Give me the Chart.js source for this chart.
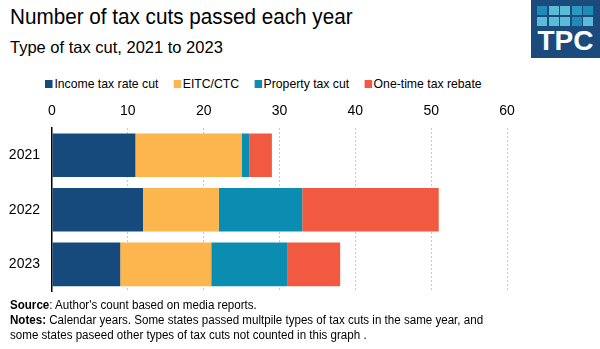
<!DOCTYPE html>
<html>
<head>
<meta charset="utf-8">
<script src="https://cdn.jsdelivr.net/npm/chart.js@4.4.1/dist/chart.umd.min.js"></script>
<style>
  body { margin: 0; background: #fff; font-family: "Liberation Sans", Arial, sans-serif; }
  #wrap { position: relative; width: 600px; height: 349px; overflow: hidden; }
  #title { position: absolute; left: 10px; top: 4px; font-size: 22px; color: #000; white-space: nowrap;
           transform: scaleX(0.94); transform-origin: left top; }
  #subtitle { position: absolute; left: 10px; top: 38px; font-size: 16.5px; color: #000; white-space: nowrap; }
  #legend { position: absolute; left: 45px; top: 76px; font-size: 13px; color: #000; white-space: nowrap;
            transform: scaleX(0.94); transform-origin: left top; }
  #legend span.item { display: inline-block; margin-right: 16px; }
  #legend span.box { display: inline-block; width: 8px; height: 8px; margin-right: 2px; vertical-align: 0px; }
  #logo { position: absolute; left: 531px; top: 0; width: 69px; height: 58px; background: #1b4a7c; }
  #logo .sq { position: absolute; width: 10px; height: 9px; }
  #logo .txt { position: absolute; left: 0; width: 69px; top: 25px; text-align: center; color: #fff;
               font-weight: bold; font-size: 28px; }
  #chartBox { position: absolute; left: 0; top: 95px; width: 600px; height: 217px; }
  #notes { position: absolute; left: 10px; top: 298px; font-size: 12px; line-height: 15px; color: #000;
           white-space: nowrap; transform: scaleX(0.965); transform-origin: left top; }
</style>
</head>
<body>
<div id="wrap">
  <div id="title">Number of tax cuts passed each year</div>
  <div id="subtitle">Type of tax cut, 2021 to 2023</div>
  <div id="legend"></div>
  <div id="logo"></div>
  <div id="chartBox"><canvas id="taxCutsChart" width="600" height="217"></canvas></div>
  <div id="notes">
    <div><b>Source</b>: Author's count based on media reports.</div>
    <div><b>Notes:</b> Calendar years. Some states passed multpile types of tax cuts in the same year, and</div>
    <div>some states paseed other types of tax cuts not counted in this graph .</div>
  </div>
</div>
<script>
// Tax cuts passed per year, by type
const years = ['2021', '2022', '2023'];
const seriesNames = ['Income tax rate cut', 'EITC/CTC', 'Property tax cut', 'One-time tax rebate'];
const incomeTaxRateCut = [11, 12, 9];
const eitcCtc = [14, 10, 12];
const propertyTaxCut = [1, 11, 10];
const oneTimeRebate = [3, 18, 7];
const xTicks = [0, 10, 20, 30, 40, 50, 60];

const seriesColors = ['#174a7c', '#fcb64d', '#0a8db0', '#f15a40'];
const seriesValues = [incomeTaxRateCut, eitcCtc, propertyTaxCut, oneTimeRebate];

// Legend row
const legendEl = document.getElementById('legend');
seriesNames.forEach((name, i) => {
    const item = document.createElement('span');
    item.className = 'item';
    item.innerHTML = '<span class="box" style="background:' + seriesColors[i] + '"></span>' + name;
    legendEl.appendChild(item);
});

// TPC logo squares
const logo = document.getElementById('logo');
const sqColors = [
    ['#1e8cb6', '#5cbbd6', '#5cbbd6', '#2a98c0', '#1e8cb6'],
    ['#5cbbd6', '#5cbbd6', '#5cbbd6', '#1e8cb6', '#5cbbd6']
];
sqColors.forEach((row, r) => {
    row.forEach((c, k) => {
        const sq = document.createElement('div');
        sq.className = 'sq';
        sq.style.left = (6 + k * 11.5) + 'px';
        sq.style.top = (6 + r * 11) + 'px';
        sq.style.background = c;
        logo.appendChild(sq);
    });
});
const txt = document.createElement('div');
txt.className = 'txt';
txt.textContent = 'TPC';
logo.appendChild(txt);

const ctx = document.getElementById('taxCutsChart').getContext('2d');

new Chart(ctx, {
    type: 'bar',
    data: {
        labels: years,
        datasets: seriesNames.map((name, i) => ({
            label: name,
            data: seriesValues[i],
            backgroundColor: seriesColors[i],
            borderWidth: 0,
            categoryPercentage: 0.8,
            barPercentage: 1.0
        }))
    },
    options: {
        indexAxis: 'y',
        responsive: false,
        animation: false,
        layout: {
            padding: { left: 0, right: 93, top: 0, bottom: 5 }
        },
        scales: {
            x: {
                position: 'top',
                stacked: true,
                min: 0,
                max: 60,
                afterBuildTicks: scale => {
                    scale.ticks = xTicks.map(v => ({ value: v }));
                },
                afterFit: scale => { scale.height = 33; },
                ticks: {
                    padding: 8,
                    color: '#000',
                    font: { family: 'Liberation Sans', size: 14 }
                },
                grid: {
                    drawTicks: false,
                    color: c => (c.tick && c.tick.value === 0 ? 'rgba(0,0,0,0)' : '#c8c8c8'),
                    lineWidth: 1
                },
                border: { display: false, dash: [2, 2] }
            },
            y: {
                stacked: true,
                afterFit: scale => { scale.width = 52; },
                ticks: {
                    padding: 12,
                    color: '#000',
                    font: { family: 'Liberation Sans', size: 14 }
                },
                grid: { display: false, drawTicks: false },
                border: { display: true, color: '#000', width: 1.5 }
            }
        },
        plugins: {
            legend: { display: false },
            tooltip: { enabled: false }
        }
    }
});
</script>
</body>
</html>
